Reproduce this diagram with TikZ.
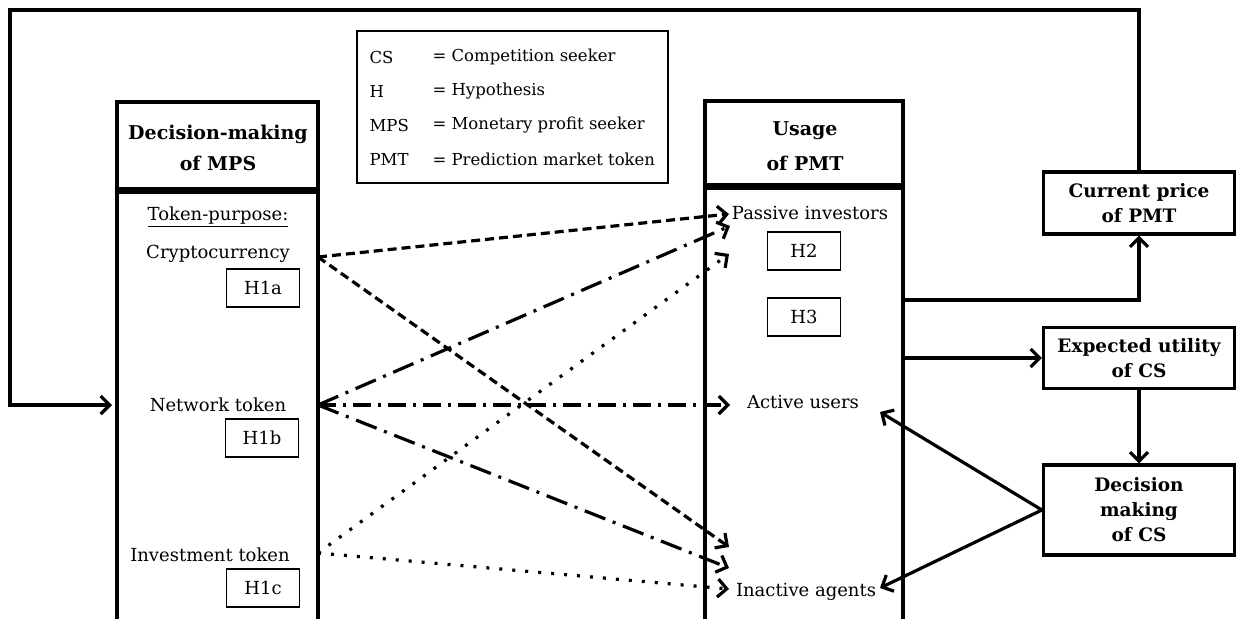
\documentclass[tikz,border=0pt]{standalone}
\usepackage{fontspec}
\setmainfont{DejaVu Serif}
\usetikzlibrary{arrows.meta,positioning}

\newcommand\itemfont{\fontsize{18}{21}\selectfont}
\newcommand\legfont{\fontsize{16.5}{19}\selectfont}

\tikzset{
  mainbox/.style={draw, line width=3.2pt},
  legbox/.style={draw, line width=1.3pt},
  hypbox/.style={draw, line width=1.3pt, minimum width=73pt, minimum height=38pt, inner sep=0pt, font=\itemfont},
  sidebox/.style={draw, line width=3.2pt, minimum width=191pt, inner sep=0pt, align=center,
    font=\bfseries\fontsize{18.5}{25}\selectfont},
  headtxt/.style={align=center, font=\bfseries\fontsize{19}{31}\selectfont},
  item/.style={font=\itemfont},
  legtxt/.style={anchor=west, font=\legfont},
  flow/.style={line width=3.2pt, -{Straight Barb[length=9pt,width=18pt]}},
  cryptoline/.style={flow, dash pattern=on 9pt off 5pt},
  netline/.style={flow, dash pattern=on 22pt off 8pt on 3pt off 8pt},
  netmid/.style={flow, dash pattern=on 18pt off 7pt on 3pt off 7pt},
  invline/.style={flow, dash pattern=on 3pt off 10pt},
}

\begin{document}
\begin{tikzpicture}[x=1pt, y=-1pt]
\useasboundingbox (0,0) rectangle (1236,618);

% --- Legend ---
\draw[legbox] (357,31) rectangle (668,183);
\node[legtxt] (lgA) at (366,57) {CS};
\node[legtxt] (lgAt) at (429,57) {= Competition seeker};
\node[legtxt] (lgB) at (366,91) {H};
\node[legtxt] (lgBt) at (429,91) {= Hypothesis};
\node[legtxt] (lgC) at (366,125) {MPS};
\node[legtxt] (lgCt) at (429,125) {= Monetary profit seeker};
\node[legtxt] (lgD) at (366,159) {PMT};
\node[legtxt] (lgDt) at (429,159) {= Prediction market token};

% --- Decision-making of MPS ---
\draw[mainbox] (117,102) rectangle (318,189);
\draw[mainbox] (117,192) rectangle (318,640);
\node[headtxt] (mpsHead) at (218,148) {Decision-making\\of MPS};
\node[item] (purpose) at (218,217) {\underline{Token-purpose:}};
\node[item] (crypto) at (218,254) {Cryptocurrency};
\node[hypbox] (hOneA) at (263,288) {H1a};
\node[item] (network) at (218,405) {Network token};
\node[hypbox] (hOneB) at (262,438) {H1b};
\node[item] (invest) at (210,555) {Investment token};
\node[hypbox] (hOneC) at (263,588) {H1c};

% --- Usage of PMT ---
\draw[mainbox] (705,101) rectangle (903,185);
\draw[mainbox] (705,188) rectangle (903,640);
\node[headtxt, font=\bfseries\fontsize{19}{35}\selectfont] (pmtHead) at (805,146) {Usage\\of PMT};
\node[item] (passive) at (810,213) {Passive investors};
\node[hypbox] (hTwo) at (804,251) {H2};
\node[hypbox] (hThree) at (804,317) {H3};
\node[item] (active) at (803,402) {Active users};
\node[item] (inactive) at (806,592) {Inactive agents};

% --- Boxes on the right ---
\node[sidebox, minimum height=62pt] (price) at (1139,203) {Current price\\of PMT};
\node[sidebox, minimum height=61pt] (utility) at (1139,358) {Expected utility\\of CS};
\node[sidebox, minimum height=90pt] (decision) at (1139,510) {Decision\\making\\of CS};

% Connector ends
\coordinate (pmtOutA) at (903,300);
\coordinate (pmtOutB) at (903,358);
\coordinate (loopTop) at (10,10);
\coordinate (mpsIn) at (112,405);
\coordinate (cryR) at (318,257);
\coordinate (netR) at (318,405);
\coordinate (invR) at (318,553);
\coordinate (pasA) at (729,214);
\coordinate (pasB) at (730,226);
\coordinate (pasC) at (729,254);
\coordinate (actA) at (730,405);
\coordinate (inaA) at (729,547);
\coordinate (inaB) at (729,568);
\coordinate (inaC) at (729,589);
\coordinate (actB) at (880,412);
\coordinate (inaD) at (880,588);

% Usage -> price, utility; loop back to MPS
\draw[flow] (pmtOutA) -| (price.south);
\draw[flow] (pmtOutB) -- (utility.west);
\draw[flow] (utility.south) -- (decision.north);
\draw[flow] (price.north) |- (loopTop) |- (mpsIn);
\draw[flow] (decision.west) -- (actB);
\draw[flow] (decision.west) -- (inaD);

% Hypotheses
\draw[cryptoline] (cryR) -- (pasA);
\draw[cryptoline] (cryR) -- (inaA);
\draw[netline] (netR) -- (pasB);
\draw[netmid] (netR) -- (actA);
\draw[netline] (netR) -- (inaB);
\draw[invline] (invR) -- (pasC);
\draw[invline] (invR) -- (inaC);

\end{tikzpicture}
\end{document}
